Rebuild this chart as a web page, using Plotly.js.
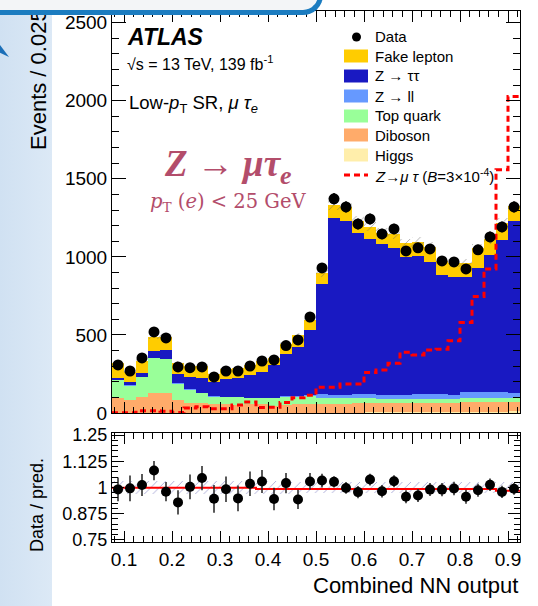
<!DOCTYPE html>
<html><head><meta charset="utf-8">
<script src="https://cdn.plot.ly/plotly-3.0.1.min.js"></script>
<style>
html,body{margin:0;padding:0;background:#fff;}
#wrap{position:relative;width:538px;height:606px;overflow:hidden;background:#fff;}
#strip{position:absolute;left:0;top:0;width:52px;height:606px;background:linear-gradient(to right,#d0e1f2,#dce9f6);z-index:0;}
#chart{position:absolute;left:0;top:0;width:538px;height:606px;z-index:1;}
#frame{position:absolute;left:-12px;top:-28px;width:330px;height:38px;background:#f3f5f7;border-right:5px solid #1b7cc0;border-bottom:5px solid #1b7cc0;border-bottom-right-radius:20px;z-index:2;}
#arrow{position:absolute;left:0;top:45px;width:9px;height:12px;background:#1b6fb8;clip-path:polygon(0 0,100% 100%,0 65%);z-index:2;}
</style></head>
<body>
<div id="wrap"><div id="strip"></div><div id="chart"></div><div id="frame"></div><div id="arrow"></div></div>
<script>
// ---- data ----
const binCenters = [0.0875,0.1125,0.1375,0.1625,0.1875,0.2125,0.2375,0.2625,0.2875,0.3125,0.3375,0.3625,0.3875,0.4125,0.4375,0.4625,0.4875,0.5125,0.5375,0.5625,0.5875,0.6125,0.6375,0.6625,0.6875,0.7125,0.7375,0.7625,0.7875,0.8125,0.8375,0.8625,0.8875,0.9125];
const binWidth = 0.025;
const higgs   = [2,2,2,3,3,2,2,2,2,2,2,2,2,2,2,2,2,3,3,3,3,4,4,4,4,5,5,5,6,6,7,8,9,10];
const diboson = [94,81,99,123,123,81,64,60,56,56,51,53,53,43,49,53,53,57,57,57,59,58,58,59,59,58,58,60,59,62,63,62,63,62];
const topQuark= [115,92,128,224,218,103,81,64,47,43,48,39,39,49,50,50,55,36,36,34,32,32,28,27,27,27,29,27,27,28,26,26,26,24];
const zll     = [3,3,4,5,5,4,4,4,4,4,4,4,5,5,6,6,7,24,22,24,26,26,25,25,25,30,28,28,26,37,37,37,38,35];
const ztautau = [10,23,25,40,55,58,82,96,88,113,117,146,166,206,271,314,415,705,1134,1113,1032,993,968,945,887,886,846,765,756,741,798,878,973,1102];
const fake    = [96,64,77,94,85,72,69,76,53,64,64,64,68,50,62,73,64,70,81,89,81,81,73,85,86,92,100,87,88,90,125,102,107,94];
const dataVals= [308,269,353,519,481,295,290,295,231,269,269,301,333,340,432,468,615,929,1372,1320,1211,1243,1147,1179,1038,1058,1051,974,968,923,1045,1128,1192,1320];
const dataErr = [18,16,19,23,22,17,17,17,15,16,16,17,18,18,21,22,25,30,37,36,35,35,34,34,32,33,32,31,31,30,32,34,35,36];
const signal  = [2,2,15,15,12,4,32,40,28,28,52,70,36,37,67,98,113,165,165,186,186,259,276,318,389,372,404,408,462,579,746,923,1558,2028];
const ratioVals=[0.991,0.996,1.012,1.081,0.980,0.929,1.003,1.045,0.946,0.992,0.948,1.018,1.029,0.945,1.021,0.943,1.029,1.033,1.027,0.998,0.978,1.038,0.982,1.030,0.956,0.962,0.990,0.990,0.995,0.956,0.987,1.013,0.979,0.994];
const ratioErr= [0.057,0.061,0.053,0.046,0.046,0.058,0.059,0.058,0.066,0.061,0.061,0.058,0.055,0.054,0.048,0.046,0.040,0.033,0.027,0.028,0.029,0.028,0.030,0.029,0.031,0.031,0.031,0.032,0.032,0.033,0.031,0.030,0.029,0.028];
const relUnc  = [0.032,0.032,0.032,0.030,0.030,0.032,0.032,0.032,0.032,0.032,0.032,0.032,0.030,0.030,0.030,0.028,0.028,0.026,0.025,0.025,0.025,0.025,0.025,0.025,0.025,0.025,0.025,0.025,0.025,0.025,0.025,0.025,0.025,0.025];
const ratioLine=[0.999,0.999,0.999,0.999,0.999,0.999,0.999,0.999,0.999,0.999,0.999,0.999,0.993,0.993,0.993,0.993,0.993,0.993,0.993,0.993,0.993,0.993,0.993,0.993,0.993,0.993,0.993,0.993,0.993,0.993,0.993,0.993,0.984,0.984];
const xTickVals = [0.1,0.2,0.3,0.4,0.5,0.6,0.7,0.8,0.9];
const rTickVals = [0.75,0.875,1,1.125,1.25];
const rTickText = ['0.75','0.875','1','1.125','1.25'];

// ---- derived ----
const edges = binCenters.map(c => c - binWidth/2).concat([binCenters[binCenters.length-1] + binWidth/2]);
const stepY = a => a.concat([a[a.length-1]]);
const total = binCenters.map((_,i)=>higgs[i]+diboson[i]+topQuark[i]+zll[i]+ztautau[i]+fake[i]);

const F = 'Liberation Sans, Arial, Helvetica, sans-serif';
const SERIF_L = 'Liberation Serif, DejaVu Serif, serif';
const SERIF_D = 'DejaVu Serif, Liberation Serif, serif';
const C = {fake:'#ffcc00', ztt:'#1919c2', zll:'#6699ff', top:'#99ff99', dib:'#ffab6a', higgs:'#ffeeab', sig:'#ff0000'};

function bar(y, color, name){
  return {type:'bar', x:binCenters, y:y, name:name, marker:{color:color, line:{width:0}}, xaxis:'x', yaxis:'y', hoverinfo:'skip'};
}
const traces = [
  bar(higgs, C.higgs, 'Higgs'),
  bar(diboson, C.dib, 'Diboson'),
  bar(topQuark, C.top, 'Top quark'),
  bar(zll, C.zll, 'Z → ll'),
  bar(ztautau, C.ztt, 'Z → ττ'),
  bar(fake, C.fake, 'Fake lepton'),
  {type:'bar', x:binCenters, base:total.map((t,i)=>t*(1-relUnc[i])), y:total.map((t,i)=>2*t*relUnc[i]),
   marker:{color:'rgba(0,0,0,0)', line:{width:0}, pattern:{shape:'/', fgcolor:'rgba(110,110,110,0.6)', bgcolor:'rgba(0,0,0,0)', size:6, solidity:0.15}},
   xaxis:'x', yaxis:'y', hoverinfo:'skip', name:'Uncertainty'},
  {type:'scatter', mode:'lines', x:edges, y:stepY(signal), line:{shape:'hv', color:C.sig, width:3, dash:'6px,4px'}, xaxis:'x', yaxis:'y', name:'Signal', cliponaxis:true},
  {type:'scatter', mode:'markers', x:binCenters, y:dataVals, marker:{color:'#000', size:11},
   error_y:{type:'data', array:dataErr, color:'#000', thickness:1.5, width:0}, xaxis:'x', yaxis:'y', name:'Data'},
  // ratio panel
  {type:'bar', x:binCenters, base:relUnc.map(u=>1-u), y:relUnc.map(u=>2*u),
   marker:{color:'rgba(0,0,0,0)', line:{width:0}, pattern:{shape:'/', fgcolor:'rgba(140,140,200,0.75)', bgcolor:'rgba(0,0,0,0)', size:6, solidity:0.15}},
   xaxis:'x2', yaxis:'y2', hoverinfo:'skip', name:'Band'},
  {type:'scatter', mode:'lines', x:edges, y:stepY(ratioLine), line:{shape:'hv', color:'#ff0000', width:2}, xaxis:'x2', yaxis:'y2', name:'Ratio line'},
  {type:'scatter', mode:'markers', x:binCenters, y:ratioVals, marker:{color:'#000', size:10},
   error_y:{type:'data', array:ratioErr, color:'#222', thickness:1.5, width:0}, xaxis:'x2', yaxis:'y2', name:'Data/pred'}
];

// pixel -> paper helpers for decorations (plot area: x 112..520, y 11..542)
const PX = p => (p-112)/408;
const PY = p => (542-p)/531;

const axisCommon = {showline:true, linecolor:'#000', linewidth:1, mirror:'allticks', showgrid:false, zeroline:false, ticks:'inside', tickcolor:'#000', tickwidth:1};

const legendItems = [
  {label:'Fake lepton', color:C.fake, y:56},
  {label:'Z → ττ', color:C.ztt, y:76},
  {label:'Z → ll', color:C.zll, y:96},
  {label:'Top quark', color:C.top, y:116},
  {label:'Diboson', color:C.dib, y:135},
  {label:'Higgs', color:C.higgs, y:155}
];
const shapes = [];
const annotations = [];
legendItems.forEach(it=>{
  shapes.push({type:'rect', xref:'paper', yref:'paper', x0:PX(344), x1:PX(368), y0:PY(it.y+6.5), y1:PY(it.y-6.5), fillcolor:it.color, line:{width:0}});
  annotations.push({xref:'paper', yref:'paper', x:PX(373), y:PY(it.y), xanchor:'left', yanchor:'middle', text:it.label, showarrow:false, font:{family:F, size:15, color:'#000'}});
});
shapes.push({type:'circle', xref:'paper', yref:'paper', x0:PX(352), x1:PX(361), y0:PY(41.5), y1:PY(32.5), fillcolor:'#000', line:{width:0}});
annotations.push({xref:'paper', yref:'paper', x:PX(373), y:PY(37), xanchor:'left', yanchor:'middle', text:'Data', showarrow:false, font:{family:F, size:15}});
shapes.push({type:'line', xref:'paper', yref:'paper', x0:PX(344), x1:PX(368), y0:PY(175), y1:PY(175), line:{color:C.sig, width:3, dash:'6px,4px'}});
annotations.push({xref:'paper', yref:'paper', x:PX(373), y:PY(175), xanchor:'left', yanchor:'middle', text:'<i>Z</i>→<i>μ τ</i> (<i>B</i>=3×10<sup>-4</sup>)', showarrow:false, font:{family:F, size:15}});

// text labels
annotations.push(
  {xref:'paper', yref:'paper', x:PX(125), y:PY(37), xanchor:'left', yanchor:'middle', text:'<b><i>ATLAS</i></b>', showarrow:false, font:{family:F, size:23}},
  {xref:'paper', yref:'paper', x:PX(125), y:PY(63), xanchor:'left', yanchor:'middle', text:'√s = 13 TeV, 139 fb<sup>-1</sup>', showarrow:false, font:{family:F, size:16}},
  {xref:'paper', yref:'paper', x:PX(127), y:PY(104), xanchor:'left', yanchor:'middle', text:'Low-<i>p</i><sub>T</sub> SR, <i>μ τ</i><sub><i>e</i></sub>', showarrow:false, font:{family:F, size:18.5}},
  {xref:'paper', yref:'paper', x:PX(228), y:PY(166), xanchor:'center', yanchor:'middle', text:'<b><i>Z</i> → <i>μτ</i></b><sub><b><i>e</i></b></sub>', showarrow:false, font:{family:SERIF_L, size:37, color:'#b34d6b'}},
  {xref:'paper', yref:'paper', x:PX(228), y:PY(202), xanchor:'center', yanchor:'middle', text:'<i>p</i><sub>T</sub> (<i>e</i>) &lt; 25 GeV', showarrow:false, font:{family:SERIF_D, size:19.5, color:'#b34d6b'}},
  {xref:'paper', yref:'paper', x:PX(38), y:PY(80), xanchor:'center', yanchor:'middle', textangle:-90, text:'Events / 0.025', showarrow:false, font:{family:F, size:22}},
  {xref:'paper', yref:'paper', x:PX(37), y:PY(505), xanchor:'center', yanchor:'middle', textangle:-90, text:'Data / pred.', showarrow:false, font:{family:F, size:18}},
  {xref:'paper', yref:'paper', x:PX(520), y:PY(585), xanchor:'right', yanchor:'middle', text:'Combined NN output', showarrow:false, font:{family:F, size:22}}
);

const layout = {
  width:538, height:606, margin:{l:112, r:18, t:11, b:64},
  paper_bgcolor:'rgba(0,0,0,0)', plot_bgcolor:'#ffffff',
  barmode:'stack', bargap:0, showlegend:false,
  font:{family:F, size:19, color:'#000'},
  xaxis:Object.assign({}, axisCommon, {domain:[0,1], anchor:'y', range:[0.075,0.925], showticklabels:false, tickvals:xTickVals, ticklen:11,
          minor:{ticks:'inside', ticklen:6, dtick:0.02, tick0:0, tickcolor:'#000'}}),
  yaxis:Object.assign({}, axisCommon, {domain:[PY(413),1], anchor:'x', range:[0,2575], dtick:500, ticklen:14,
          tickfont:{family:F, size:19}, minor:{ticks:'inside', ticklen:7, dtick:100, tickcolor:'#000'}}),
  xaxis2:Object.assign({}, axisCommon, {domain:[0,1], anchor:'y2', range:[0.075,0.925], tickvals:xTickVals, ticktext:xTickVals.map(String), ticklen:11,
          tickfont:{family:F, size:19}, minor:{ticks:'inside', ticklen:6, dtick:0.02, tick0:0, tickcolor:'#000'}}),
  yaxis2:Object.assign({}, axisCommon, {domain:[0,PY(433)], anchor:'x2', range:[0.74,1.26], tickvals:rTickVals, ticktext:rTickText, ticklen:12,
          tickfont:{family:F, size:18}, minor:{ticks:'inside', ticklen:6, tickmode:'linear', tick0:0.75, dtick:0.025, tickcolor:'#000'}}),
  shapes:shapes, annotations:annotations
};

Plotly.newPlot('chart', traces, layout, {displayModeBar:false, staticPlot:true});
</script>
</body></html>
